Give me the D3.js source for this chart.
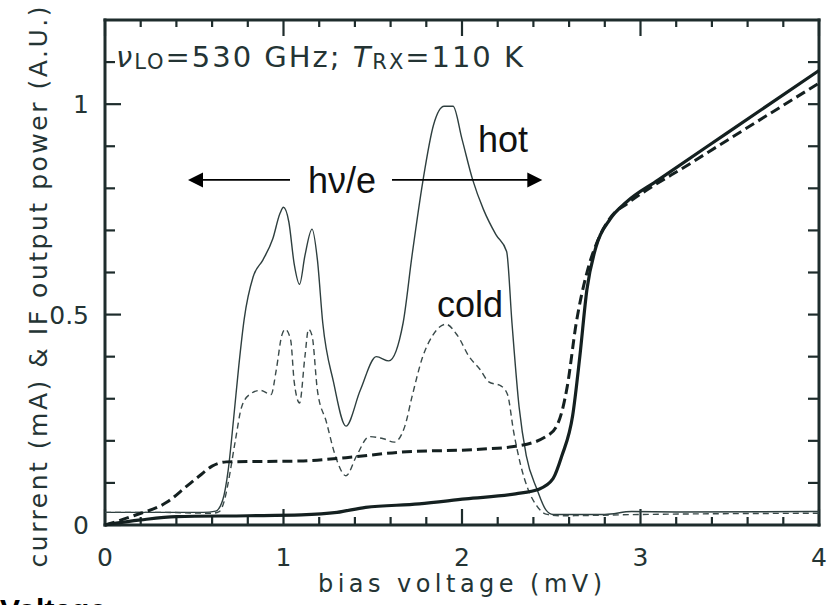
<!DOCTYPE html>
<html>
<head>
<meta charset="utf-8">
<script src="https://cdn.jsdelivr.net/npm/d3@7/dist/d3.min.js"></script>
<style>
  body { margin: 0; background: #fff; }
  svg { display: block; }
</style>
</head>
<body>
<div id="chart"></div>
<script>
// bias voltage (mV) vs. value
var hotIF = [[0, 0.03], [0.3, 0.03], [0.55, 0.03], [0.62, 0.033], [0.66, 0.06], [0.69, 0.13],
  [0.72, 0.25], [0.75, 0.38], [0.78, 0.49], [0.83, 0.59], [0.885, 0.63], [0.94, 0.68],
  [0.98, 0.74], [1.0, 0.755], [1.03, 0.72], [1.06, 0.62], [1.09, 0.572], [1.12, 0.64],
  [1.16, 0.703], [1.19, 0.63], [1.22, 0.48], [1.28, 0.34], [1.35, 0.235], [1.43, 0.32],
  [1.52, 0.40], [1.59, 0.39], [1.67, 0.48], [1.72, 0.64], [1.78, 0.815], [1.84, 0.95],
  [1.9, 0.995], [1.95, 0.995], [2.0, 0.917], [2.06, 0.82], [2.12, 0.75], [2.19, 0.69],
  [2.25, 0.65], [2.28, 0.48], [2.32, 0.28], [2.36, 0.165], [2.42, 0.085], [2.47, 0.036],
  [2.51, 0.025], [2.8, 0.025], [2.95, 0.032], [3.2, 0.031], [4, 0.032]];

var coldIF = [[0, 0.03], [0.3, 0.03], [0.6, 0.028], [0.64, 0.032], [0.67, 0.06], [0.69, 0.10],
  [0.73, 0.20], [0.765, 0.28], [0.81, 0.31], [0.87, 0.32], [0.93, 0.31], [0.96, 0.37],
  [0.99, 0.45], [1.01, 0.465], [1.04, 0.44], [1.06, 0.34], [1.09, 0.29], [1.12, 0.40],
  [1.14, 0.465], [1.16, 0.45], [1.19, 0.32], [1.24, 0.245], [1.29, 0.165], [1.35, 0.117],
  [1.41, 0.165], [1.48, 0.21], [1.56, 0.205], [1.62, 0.197], [1.68, 0.235], [1.72, 0.305],
  [1.78, 0.40], [1.835, 0.45], [1.91, 0.477], [1.975, 0.45], [2.04, 0.40], [2.10, 0.37],
  [2.15, 0.34], [2.22, 0.33], [2.255, 0.31], [2.29, 0.22], [2.33, 0.14], [2.37, 0.085],
  [2.42, 0.045], [2.47, 0.026], [2.55, 0.022], [3, 0.025], [4, 0.028]];

var hotIV = [[0, 0], [0.2, 0.012], [0.4, 0.02], [0.8, 0.022], [1.1, 0.024], [1.3, 0.03],
  [1.46, 0.042], [1.76, 0.05], [2.02, 0.062], [2.3, 0.074], [2.43, 0.085], [2.51, 0.11],
  [2.56, 0.165], [2.62, 0.26], [2.66, 0.40], [2.70, 0.56], [2.75, 0.66], [2.83, 0.727],
  [2.92, 0.767], [3.1, 0.82], [3.48, 0.93], [4, 1.08]];

var coldIV = [[0, 0], [0.16, 0.022], [0.35, 0.055], [0.46, 0.093], [0.53, 0.117], [0.60, 0.14],
  [0.68, 0.15], [1.09, 0.152], [1.35, 0.16], [1.65, 0.173], [2.1, 0.18], [2.3, 0.187],
  [2.47, 0.21], [2.53, 0.235], [2.56, 0.27], [2.59, 0.33], [2.64, 0.48], [2.70, 0.60],
  [2.77, 0.685], [2.84, 0.735], [2.93, 0.765], [3.29, 0.862], [4, 1.05]];

var xMajor = [0, 1, 2, 3, 4];
var xLabels = ["0", "1", "2", "3", "4"];
var yMajor = [0, 0.5, 1];
var yLabels = ["0", "0.5", "1"];

var svgWidth = 830;
var svgHeight = 605;
var labelColor = "#243434";
var frameInk = "#1e2c2c";

var svg = d3.select("#chart")
  .append("svg")
  .attr("width", svgWidth)
  .attr("height", svgHeight);

var x = d3.scaleLinear().domain([0, 4]).range([105, 819]);
var y = d3.scaleLinear().domain([0, 1.2]).range([525, 20]);

var xMinor = d3.range(1, 20).map(function(i) { return i * 0.2; })
  .filter(function(v) { return Math.abs(v - Math.round(v)) > 1e-6; });
var yMinor = d3.range(1, 12).map(function(i) { return i / 10; })
  .filter(function(v) { return Math.abs(v - 0.5) > 1e-6 && Math.abs(v - 1) > 1e-6; });
var yAll = d3.range(1, 12).map(function(i) { return i / 10; });

var line = d3.line()
  .x(function(d) { return x(d[0]); })
  .y(function(d) { return y(d[1]); })
  .curve(d3.curveMonotoneX);

// tick marks
var tickG = svg.append("g").attr("class", "tickmarks");
function addTick(x1, y1, x2, y2) {
  tickG.append("line").attr("x1", x1).attr("y1", y1).attr("x2", x2).attr("y2", y2);
}
xMinor.forEach(function(v) {
  addTick(x(v), y(0), x(v), y(0) - 8);
  addTick(x(v), y(1.2), x(v), y(1.2) + 7);
});
xMajor.forEach(function(v) {
  addTick(x(v), y(0), x(v), y(0) - 16);
  addTick(x(v), y(1.2), x(v), y(1.2) + 16);
});
yMinor.forEach(function(v) { addTick(x(0), y(v), x(0) + 10, y(v)); });
yMajor.forEach(function(v) { addTick(x(0), y(v), x(0) + 16, y(v)); });
yAll.forEach(function(v) { addTick(x(4), y(v), x(4) - 11, y(v)); });
tickG.selectAll("line").attr("stroke", frameInk).attr("stroke-width", 2.2);

// frame
var frame = svg.append("g").attr("class", "frame");
frame.append("line").attr("x1", x(0)).attr("x2", x(4)).attr("y1", y(0)).attr("y2", y(0));
frame.append("line").attr("x1", x(0)).attr("x2", x(4)).attr("y1", y(1.2)).attr("y2", y(1.2));
frame.append("line").attr("x1", x(0)).attr("x2", x(0)).attr("y1", y(0)).attr("y2", y(1.2));
frame.append("line").attr("x1", x(4)).attr("x2", x(4)).attr("y1", y(0)).attr("y2", y(1.2));
frame.selectAll("line")
  .attr("stroke", frameInk)
  .attr("stroke-width", 3)
  .attr("stroke-linecap", "square");

// tick labels
svg.selectAll(".xlab").data(xMajor).enter().append("text")
  .attr("class", "xlab")
  .attr("x", function(d) { return x(d); })
  .attr("y", 566)
  .attr("text-anchor", "middle")
  .attr("font-family", "DejaVu Sans").attr("font-size", 25)
  .attr("fill", labelColor)
  .text(function(d, i) { return xLabels[i]; });

svg.selectAll(".ylab").data(yMajor).enter().append("text")
  .attr("class", "ylab")
  .attr("x", 89)
  .attr("y", function(d) { return y(d) + 9; })
  .attr("text-anchor", "end")
  .attr("font-family", "DejaVu Sans").attr("font-size", 25)
  .attr("fill", labelColor)
  .text(function(d, i) { return yLabels[i]; });

svg.append("path").datum(hotIF).attr("d", line)
  .attr("fill", "none").attr("stroke", "#2e3f3f").attr("stroke-width", 1.4);
svg.append("path").datum(coldIF).attr("d", line)
  .attr("fill", "none").attr("stroke", "#3a4a4a").attr("stroke-width", 1.4)
  .attr("stroke-dasharray", "6,4");
svg.append("path").datum(hotIV).attr("d", line)
  .attr("fill", "none").attr("stroke", "#142020").attr("stroke-width", 3.2);
svg.append("path").datum(coldIV).attr("d", line)
  .attr("fill", "none").attr("stroke", "#142020").attr("stroke-width", 3)
  .attr("stroke-dasharray", "10,5");

// axis titles
svg.append("text")
  .attr("x", 460).attr("y", 592)
  .attr("text-anchor", "middle")
  .attr("font-family", "DejaVu Sans").attr("font-size", 24)
  .attr("fill", labelColor)
  .attr("textLength", 284).attr("lengthAdjust", "spacing")
  .text("bias voltage (mV)");

svg.append("text")
  .attr("transform", "translate(47,287) rotate(-90)")
  .attr("text-anchor", "middle")
  .attr("font-family", "DejaVu Sans").attr("font-size", 25)
  .attr("fill", labelColor)
  .attr("textLength", 561).attr("lengthAdjust", "spacing")
  .text("current (mA) & IF output power (A.U.)");

// condition label
var cond = svg.append("text")
  .attr("x", 116).attr("y", 67)
  .attr("font-family", "DejaVu Sans").attr("font-size", 29)
  .attr("fill", labelColor)
  .attr("textLength", 407).attr("lengthAdjust", "spacing");
cond.append("tspan").attr("font-style", "italic").text("\u03bd");
cond.append("tspan").attr("font-size", 21).attr("dy", 2).text("LO");
cond.append("tspan").attr("dy", -2).text("=530 GHz; ");
cond.append("tspan").attr("font-style", "italic").text("T");
cond.append("tspan").attr("font-size", 21).attr("dy", 2).text("RX");
cond.append("tspan").attr("dy", -2).text("=110 K");

// h nu / e arrow
var arrowY = y(0.82);
var arrowFrom = 0.465, arrowTo = 2.45;
svg.append("line")
  .attr("x1", x(arrowFrom) + 10).attr("x2", 290)
  .attr("y1", arrowY).attr("y2", arrowY)
  .attr("stroke", "#000").attr("stroke-width", 1.7);
svg.append("line")
  .attr("x1", 392).attr("x2", x(arrowTo) - 10)
  .attr("y1", arrowY).attr("y2", arrowY)
  .attr("stroke", "#000").attr("stroke-width", 1.7);
svg.append("path")
  .attr("d", "M" + x(arrowFrom) + "," + arrowY + "l15,-7.5l0,15z")
  .attr("fill", "#000");
svg.append("path")
  .attr("d", "M" + x(arrowTo) + "," + arrowY + "l-15,-7.5l0,15z")
  .attr("fill", "#000");

svg.append("text")
  .attr("x", 342).attr("y", 193)
  .attr("text-anchor", "middle")
  .attr("font-family", "Liberation Sans, Arial").attr("font-size", 36)
  .attr("fill", "#111")
  .text("h\u03bd/e");

svg.append("text")
  .attr("x", 478).attr("y", 152)
  .attr("font-family", "Liberation Sans, Arial").attr("font-size", 36)
  .attr("fill", "#111")
  .text("hot");

svg.append("text")
  .attr("x", 437).attr("y", 317)
  .attr("font-family", "Liberation Sans, Arial").attr("font-size", 36)
  .attr("fill", "#111")
  .text("cold");

// caption cut off by the bottom edge, as in the source image
svg.append("text")
  .attr("x", 0).attr("y", 620)
  .attr("font-family", "Liberation Sans, Arial").attr("font-size", 30)
  .attr("font-weight", "bold")
  .attr("fill", "#000")
  .text("Voltage");
</script>
</body>
</html>
